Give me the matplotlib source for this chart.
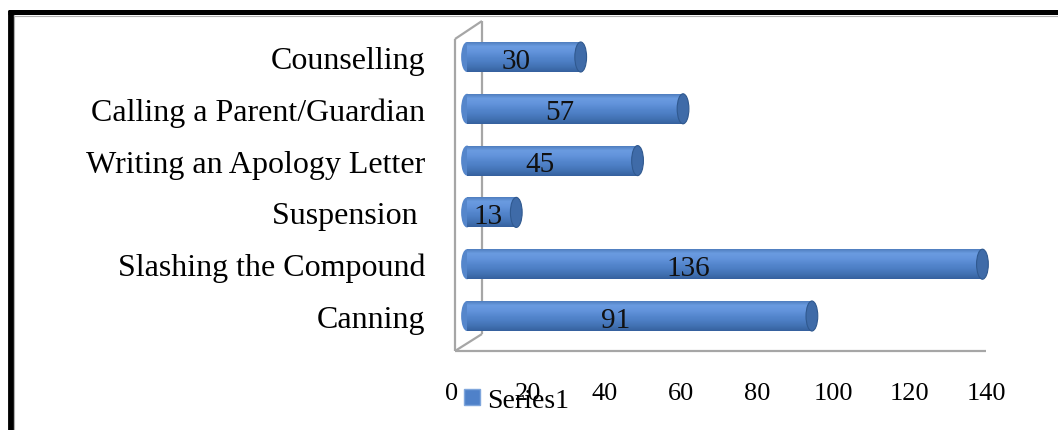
import numpy as np
import matplotlib
matplotlib.use('Agg')
import matplotlib.pyplot as plt
from matplotlib.patches import Ellipse
from matplotlib.colors import LinearSegmentedColormap
from matplotlib.lines import Line2D

plt.rcParams['font.family'] = ['Liberation Serif', 'DejaVu Serif']

# data (bottom to top)
categories = ['Canning', 'Slashing the Compound', 'Suspension ',
              'Writing an Apology Letter', 'Calling a Parent/Guardian', 'Counselling']
values = [91, 136, 13, 45, 57, 30]
ticks = [0, 20, 40, 60, 80, 100, 120, 140]
series_name = 'Series1'

W, H = 1058, 431
fig = plt.figure(figsize=(W / 100, H / 100), dpi=100)

# background layer in pixel coords: frame and 3d walls
bg = fig.add_axes([0, 0, 1, 1], zorder=0)
bg.set_xlim(0, W)
bg.set_ylim(H, 0)
bg.axis('off')
wall = dict(color='#a6a6a6', lw=1.6, solid_capstyle='butt')
bg.plot([455, 455], [40, 352], **wall)
bg.plot([482, 482], [22, 335], **wall)
bg.plot([455, 482], [40, 22], **wall)
bg.plot([455, 482], [352, 335], **wall)
bg.plot([455, 986], [352, 352], **wall)
bg.plot([10.5, 10.5], [12, H], color='black', lw=4.2, solid_capstyle='butt')
bg.plot([8, W], [13, 13], color='black', lw=3.6, solid_capstyle='butt')
bg.plot([14, 14], [16, H], color='#b0b0b0', lw=0.8)
bg.plot([14, W], [16.5, 16.5], color='#b0b0b0', lw=0.8)

# main bar axes
x0, x1 = 467, 467 + 140 * 3.79
yb, yt = 352, 22
ax = fig.add_axes([x0 / W, (H - yb) / H, (x1 - x0) / W, (yb - yt) / H], zorder=2)
ax.patch.set_alpha(0)
ypos = np.arange(len(categories))
bh = 0.58
cap_w = 3.1

bars = ax.barh(ypos, values, height=bh, color='#4f81c6', zorder=3)
cmap = LinearSegmentedColormap.from_list('cyl', [
    '#4a78b8', '#6a9be0', '#6394dc', '#5688cf', '#4c7ec4', '#4272b3', '#36619e'])
grad = np.linspace(0, 1, 64).reshape(-1, 1)
for b, v, y in zip(bars, values, ypos):
    ax.add_patch(Ellipse((0, y), cap_w, bh, facecolor='#5586cb',
                         edgecolor='none', zorder=2, clip_on=False))
    im = ax.imshow(grad, cmap=cmap, aspect='auto', origin='upper',
                   extent=[0, v, y - bh / 2, y + bh / 2], zorder=4)
    im.set_clip_path(b)
    ax.add_patch(Ellipse((v, y), cap_w, bh, facecolor='#3f6ba8',
                         edgecolor='#30598f', lw=0.8, zorder=5, clip_on=False))
    ax.text(v * 0.43, y - 0.07, str(v), ha='center', va='center',
            fontsize=21, color='#111111', zorder=6)

ax.set_xlim(0, 140)
ax.set_ylim((317 - 352) / 51.8, (317 - 22) / 51.8)
ax.set_yticks(ypos)
ax.set_yticklabels(categories, fontsize=23)
ax.tick_params(axis='y', length=0, pad=30)
ax.set_xticks([])
for s in ax.spines.values():
    s.set_visible(False)

# value axis labels (front of the 3d floor)
ax2 = fig.add_axes([452 / W, (H - 381) / H, (986 - 452) / W, 0.0001], zorder=1)
ax2.set_xlim(0, 140)
ax2.set_xticks(ticks)
ax2.set_xticklabels([str(t) for t in ticks], fontsize=19)
ax2.tick_params(axis='x', length=0, pad=1.5)
ax2.set_yticks([])
ax2.patch.set_alpha(0)
for s in ax2.spines.values():
    s.set_visible(False)

handle = Line2D([], [], marker='s', ls='none', markersize=12,
                markerfacecolor='#4f81c9', markeredgecolor='#7fa6dc')
fig.legend([handle], [series_name], loc='center left',
           bbox_to_anchor=(464 / W, (H - 401) / H), frameon=False,
           fontsize=20, handlelength=0.6, handletextpad=0.25, borderpad=0,
           borderaxespad=0)

fig.savefig('out.png', dpi=100)
